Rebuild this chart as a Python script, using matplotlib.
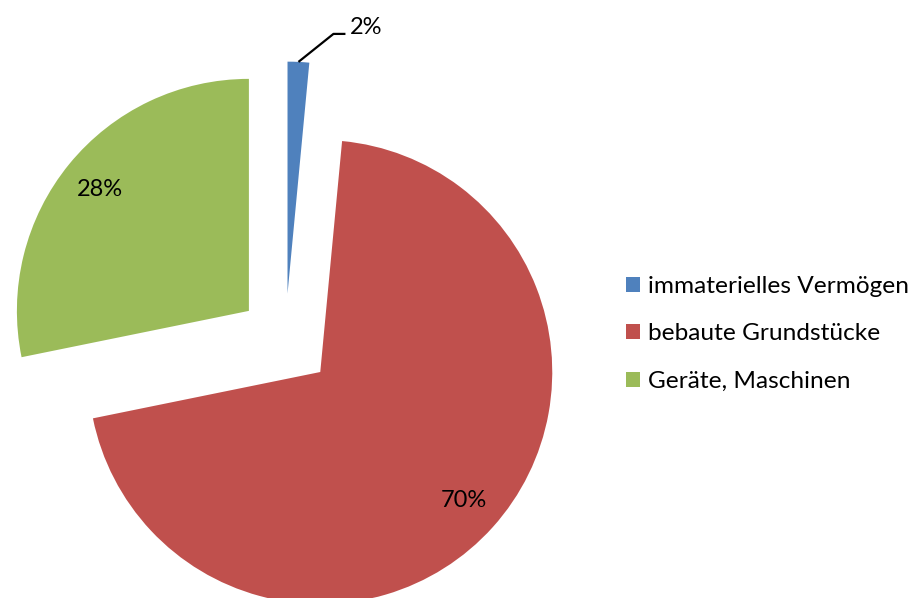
import math
import matplotlib
matplotlib.use('Agg')
import matplotlib.pyplot as plt
from matplotlib.patches import Patch

# data
categories = ['immaterielles Vermögen', 'bebaute Grundstücke', 'Geräte, Maschinen']
shares = [1.5, 70.3, 28.2]
pct_labels = ['2%', '70%', '28%']
colors = ['#4F81BD', '#C0504D', '#9BBB59']

plt.rcParams['font.family'] = ['Lato', 'DejaVu Sans']

W, H = 916, 598
fig = plt.figure(figsize=(W / 100, H / 100), dpi=100)
ax = fig.add_axes([0, 0, 1, 1])

R = 232
cx, cy = 285.3, H - 340.6
lbl = iter(pct_labels)
wedges, texts, autotexts = ax.pie(
    shares, colors=colors, radius=R, center=(cx, cy),
    startangle=90, counterclock=False, explode=[47] * 3,
    autopct=lambda p: next(lbl), pctdistance=0.83,
    textprops=dict(fontsize=17, color='black'),
    wedgeprops=dict(linewidth=0))

ax.set_xlim(0, W)
ax.set_ylim(0, H)
ax.set_aspect('auto')
ax.axis('off')

# small slice: label outside with leader line
w = wedges[0]
mid = math.radians((w.theta1 + w.theta2) / 2)
ox, oy = w.center
px, py = ox + R * math.cos(mid), oy + R * math.sin(mid)
kx, ky = px + 35, py + 28
ax.plot([px, kx, kx + 12], [py, ky, ky], color='black', lw=1.6,
        solid_capstyle='butt')
autotexts[0].set_position((kx + 16, ky + 6))
autotexts[0].set_ha('left')
autotexts[0].set_va('center')

handles = [Patch(facecolor=c, edgecolor='none') for c in colors]
fig.legend(handles, categories, loc='center left',
           bbox_to_anchor=(626 / W, 1 - 334 / H), frameon=False,
           fontsize=17.6, handlelength=0.58, handleheight=0.58,
           handletextpad=0.3, labelspacing=1.08, borderpad=0,
           borderaxespad=0)

fig.savefig('out.png', dpi=100)
